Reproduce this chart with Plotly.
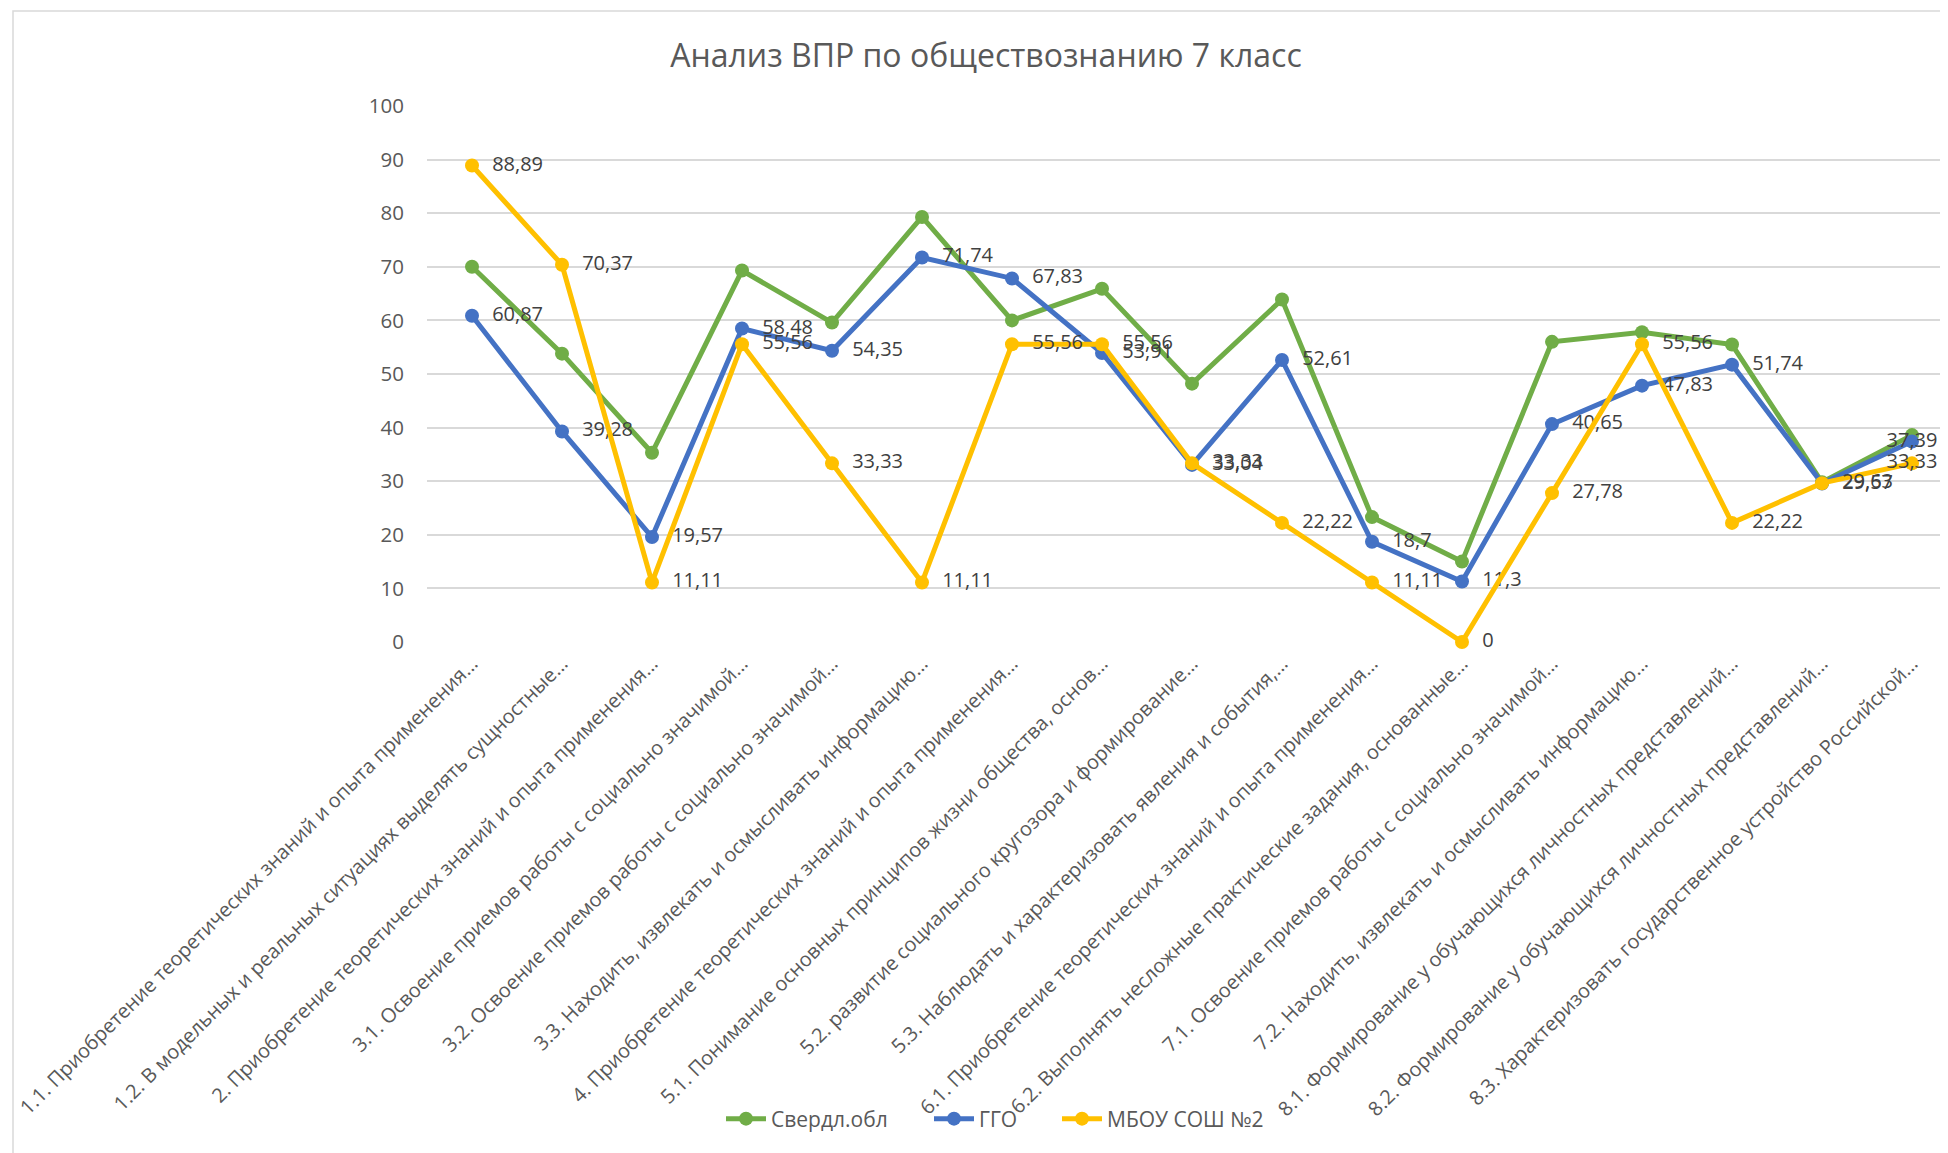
import plotly.graph_objects as go

categories = [
    "1.1. Приобретение теоретических знаний и опыта применения...",
    "1.2. В модельных и реальных ситуациях выделять сущностные...",
    "2. Приобретение теоретических знаний и опыта применения...",
    "3.1. Освоение приемов работы с социально значимой...",
    "3.2. Освоение приемов работы с социально значимой...",
    "3.3. Находить, извлекать и осмысливать информацию...",
    "4. Приобретение теоретических знаний и опыта применения...",
    "5.1. Понимание основных принципов жизни общества, основ...",
    "5.2. развитие социального кругозора и формирование...",
    "5.3. Наблюдать и характеризовать явления и события,...",
    "6.1. Приобретение теоретических знаний и опыта применения...",
    "6.2. Выполнять несложные практические задания, основанные...",
    "7.1. Освоение приемов работы с социально значимой...",
    "7.2. Находить, извлекать и осмысливать информацию...",
    "8.1. Формирование у обучающихся личностных представлений...",
    "8.2. Формирование у обучающихся личностных представлений...",
    "8.3. Характеризовать государственное устройство Российской...",
]

sverdl = [70.0, 53.8, 35.3, 69.3, 59.6, 79.3, 60.0, 65.9, 48.2, 63.9, 23.3, 15.0, 56.0, 57.8, 55.5, 29.8, 38.6]
ggo = [60.87, 39.28, 19.57, 58.48, 54.35, 71.74, 67.83, 53.91, 33.04, 52.61, 18.7, 11.3, 40.65, 47.83, 51.74, 29.57, 37.39]
school = [88.89, 70.37, 11.11, 55.56, 33.33, 11.11, 55.56, 55.56, 33.33, 22.22, 11.11, 0, 27.78, 55.56, 22.22, 29.63, 33.33]

series_names = ["Свердл.обл", "ГГО", "МБОУ СОШ №2"]
colors = ["#70AD47", "#4472C4", "#FFC000"]

FONT = "Open Sans"


def fmt(v):
    s = f"{v:.2f}".rstrip("0").rstrip(".")
    return s.replace(".", ",")


xs = list(range(len(categories)))
n = len(categories)
positions = ["middle right"] * (n - 1) + ["middle center"]

# figure is placed 8px from the page corner (browser body margin)
W, H = 1940, 1145
L, R, T, B = 419, 0, 98, 511
pw = W - L - R
ph = H - T - B

legend_ids = ["legend", "legend2", "legend3"]
legend_x = [713, 921, 1049]

fig = go.Figure()
for i, (name, vals, col, labels) in enumerate([
    (series_names[0], sverdl, colors[0], False),
    (series_names[1], ggo, colors[1], True),
    (series_names[2], school, colors[2], True),
]):
    txt = None
    if labels:
        txt = ["\u00a0\u00a0" + fmt(v) for v in vals[:-1]] + [fmt(vals[-1])]
    fig.add_trace(go.Scatter(
        x=xs, y=vals, name=name,
        mode="lines+markers+text" if labels else "lines+markers",
        line=dict(color=col, width=5),
        marker=dict(color=col, size=14),
        text=txt,
        textposition=positions,
        textfont=dict(family=FONT, size=20, color="#404040"),
        cliponaxis=False,
        legend=legend_ids[i],
    ))

legend_common = dict(
    orientation="h", xref="container", yref="container",
    y=1 - 1111 / H, xanchor="left", yanchor="middle",
    bgcolor="rgba(0,0,0,0)",
    font=dict(family=FONT, size=21, color="#595959"),
    itemwidth=40,
)

fig.update_layout(
    width=W, height=H,
    margin=dict(l=L, r=R, t=T, b=B, autoexpand=False),
    paper_bgcolor="white", plot_bgcolor="white",
    font=dict(family=FONT, color="#595959"),
    title=dict(
        text="Анализ ВПР по обществознанию 7 класс",
        x=978 / W, y=1 - 48 / H, xref="container", yref="container",
        xanchor="center", yanchor="middle",
        font=dict(family=FONT, size=32, color="#595959"),
    ),
    showlegend=True,
    legend=dict(x=legend_x[0] / W, **legend_common),
    legend2=dict(x=legend_x[1] / W, **legend_common),
    legend3=dict(x=legend_x[2] / W, **legend_common),
    xaxis=dict(
        range=[-0.5, 16.4],
        tickmode="array", tickvals=xs, ticktext=categories,
        tickangle=-45,
        tickfont=dict(family=FONT, size=20, color="#595959"),
        showgrid=False, zeroline=False, showline=False,
        ticks="", ticklabelstandoff=5, automargin=False,
        ticklabeloverflow="allow",
    ),
    yaxis=dict(
        range=[0, 100], dtick=10,
        tickfont=dict(family=FONT, size=20.5, color="#595959"),
        showgrid=True, gridcolor="#D9D9D9", gridwidth=1.5,
        zeroline=False, showline=False, ticks="",
        ticklabelstandoff=22, automargin=False,
        ticklabeloverflow="allow",
    ),
    shapes=[
        dict(type="rect", xref="paper", yref="paper",
             x0=(5 - L) / pw, x1=(W + 20 - L) / pw,
             y0=(H - B - (H + 20)) / ph, y1=(H - B - 3) / ph,
             line=dict(color="#D9D9D9", width=1.5), fillcolor="rgba(0,0,0,0)",
             layer="below"),
    ],
)

fig.write_html("out.html")
